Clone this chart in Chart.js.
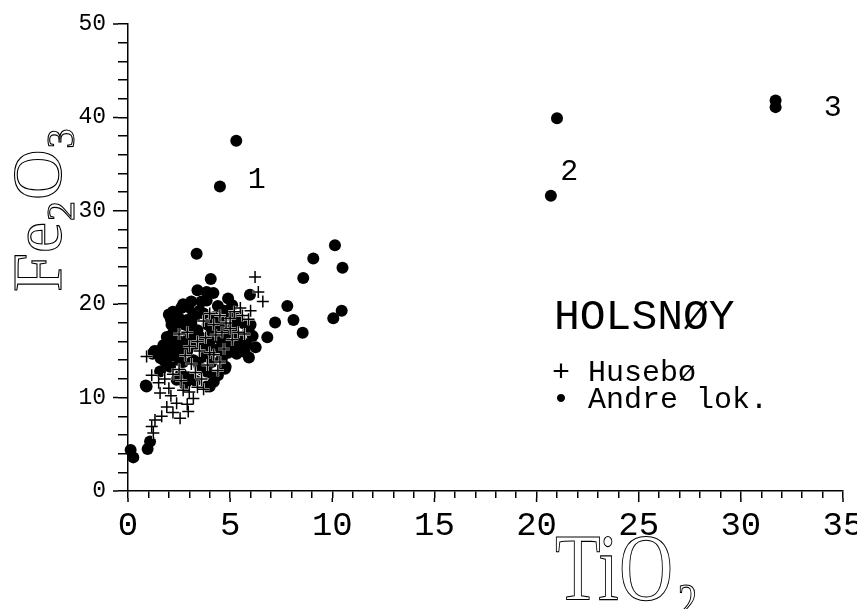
<!DOCTYPE html>
<html lang="no">
<head>
<meta charset="UTF-8">
<title>HOLSNØY - Fe2O3 mot TiO2</title>
<script src="https://cdn.jsdelivr.net/npm/chart.js"></script>
<style>
  body { margin: 0; background: #fff; }
  #chart { display: block; }
</style>
</head>
<body>
<canvas id="chart" width="857" height="609"></canvas>
<script>
  // Husebø samples (+)
  const husTi = [6.22, 6.38, 6.6, 0.91, 1.16, 1.57, 1.32, 1.16, 1.24, 1.65, 2.55, 2.95, 2.38, 3.2,
    1.9, 2.1, 2.7, 1.5, 2.0, 2.9, 3.0, 3.4, 2.2, 1.8,
    3.3, 3.6, 3.9, 4.2, 4.5, 4.0, 2.8, 3.1, 2.5, 2.2, 3.5, 3.8, 4.3, 4.6, 4.8, 5.0, 5.2, 5.5,
    5.0, 4.5, 4.0, 3.7, 5.6, 5.4, 5.7, 5.1, 4.7, 6.0, 3.4, 2.9, 3.0, 2.5, 4.2, 5.9, 2.6, 4.4, 3.7];
  const husFe = [22.9, 21.3, 20.3, 14.4, 12.4, 10.5, 7.6, 6.9, 6.2, 8.0, 7.8, 8.5, 9.4, 9.9,
    9.0, 10.2, 10.8, 11.6, 11.0, 9.3, 10.6, 11.1, 8.4, 12.0,
    12.7, 12.0, 13.5, 14.6, 13.8, 14.8, 14.5, 13.6, 13.0, 12.5, 15.0, 16.4, 16.7, 17.0, 18.0, 18.5, 19.2, 19.6,
    17.4, 18.8, 19.0, 18.2, 18.8, 17.0, 16.8, 16.2, 15.2, 19.3, 16.0, 17.0, 15.5, 16.8, 17.8, 18.4, 11.8, 12.9, 10.9];

  // Andre lokaliteter (•)
  const andreTi = [5.3, 4.5, 21.0, 20.7, 31.7, 31.7,
    0.13, 0.26, 0.96, 1.08, 0.87, 0.91,
    3.36, 4.05, 3.85, 4.18, 3.6, 4.9, 5.97, 9.07, 10.13, 10.5, 8.58, 7.8, 8.1, 8.55, 7.2, 10.46, 10.05,
    6.82, 6.25, 5.92, 4.78, 3.85,
    2.2, 2.95, 3.28, 3.85, 1.73, 1.4, 2.38, 2.13, 4.0, 4.75, 3.2, 2.06, 2.38, 1.57, 3.68, 4.5, 5.15, 5.32,
    2.5, 2.3, 2.8, 3.0, 2.6, 2.9, 3.4, 3.6, 3.3, 3.9, 4.2, 4.4, 4.0, 4.3, 3.7, 3.5, 2.7, 2.4, 2.0, 1.8,
    1.9, 2.2, 2.6, 3.0, 3.3, 2.8, 4.1, 4.6, 5.0, 4.8, 5.5, 5.8, 5.3, 5.6, 4.7, 4.4, 3.5, 2.6, 2.1, 3.1,
    5.1, 5.9, 6.1, 4.9, 3.9, 4.4, 1.2, 1.6, 2.9, 3.8, 4.6, 5.4, 6.0, 4.1, 3.2, 2.4,
    2.0, 2.7, 3.1, 3.4, 2.9, 3.7, 4.6, 1.6, 1.3, 2.5, 3.6, 4.2, 5.2, 5.7, 4.9, 2.2, 3.3, 1.9, 2.8, 4.5];
  const andreFe = [37.5, 32.6, 39.9, 31.6, 41.8, 41.1,
    4.4, 3.6, 4.5, 5.3, 11.3, 11.2,
    25.4, 22.7, 21.3, 21.2, 20.3, 20.6, 21.0, 24.9, 26.3, 23.9, 22.8, 19.8, 18.3, 16.95, 18.05, 19.3, 18.5,
    16.45, 15.4, 14.3, 13.3, 11.2,
    19.2, 19.7, 18.7, 20.4, 15.6, 14.9, 16.3, 17.8, 11.2, 13.1, 14.0, 13.3, 11.9, 12.8, 15.4, 16.3, 17.6, 14.7,
    18.5, 17.2, 17.8, 16.8, 15.6, 15.0, 17.2, 16.4, 15.7, 17.8, 18.6, 17.4, 16.0, 15.1, 14.4, 13.3, 13.8, 14.6, 14.4, 13.9,
    16.5, 15.5, 12.6, 12.2, 11.8, 11.4, 13.8, 14.2, 15.6, 16.8, 16.2, 15.7, 18.6, 18.0, 19.3, 19.8, 19.3, 19.6, 18.4, 18.0,
    19.9, 17.2, 16.6, 14.8, 12.7, 12.4, 14.7, 15.1, 16.2, 15.1, 15.6, 15.3, 17.8, 17.1, 19.0, 17.7,
    18.9, 20.0, 20.3, 21.5, 18.3, 19.0, 18.0, 14.2, 15.0, 14.0, 13.0, 11.7, 16.9, 14.9, 18.9, 16.9, 16.2, 15.2, 15.8, 14.9];

  const xMajor = [0, 5, 10, 15, 20, 25, 30, 35];
  const yMajor = [0, 10, 20, 30, 40, 50];
  const groupTags = ['1', '2', '3'];

  const mono = '"Liberation Mono", "DejaVu Sans Mono", monospace';
  const serif = '"Liberation Serif", "DejaVu Serif", serif';

  const zip = (xs, ys) => xs.map((v, i) => ({ x: v, y: ys[i] }));

  // numbers next to the outlier groups, in data units
  const tagSpots = [[6.3, 33.3], [21.6, 34.2], [34.5, 41.0]];

  const decorations = {
    id: 'decorations',
    afterDraw(chart) {
      const { ctx, chartArea: a, scales: { x, y } } = chart;
      ctx.save();
      ctx.strokeStyle = '#000';
      ctx.fillStyle = '#000';
      ctx.lineWidth = 1.5;

      // longer ticks at the labelled values
      ctx.beginPath();
      yMajor.forEach(v => {
        const py = y.getPixelForValue(v);
        ctx.moveTo(a.left - 10, py);
        ctx.lineTo(a.left - 15, py);
      });
      xMajor.forEach(v => {
        const px = x.getPixelForValue(v);
        ctx.moveTo(px, a.bottom + 7);
        ctx.lineTo(px, a.bottom + 11);
      });
      ctx.stroke();

      // group numbers
      ctx.font = '30px ' + mono;
      ctx.textAlign = 'center';
      ctx.textBaseline = 'middle';
      groupTags.forEach((t, i) => {
        ctx.fillText(t, x.getPixelForValue(tagSpots[i][0]), y.getPixelForValue(tagSpots[i][1]));
      });

      // legend block
      ctx.textAlign = 'left';
      ctx.textBaseline = 'alphabetic';
      ctx.font = '43px ' + mono;
      ctx.fillText('HOLSNØY', 554, 329);
      ctx.font = '30px ' + mono;
      ctx.fillText('+ Husebø', 552, 381);
      ctx.fillText('• Andre lok.', 552, 408);

      // axis titles, outlined like a pen plotter
      ctx.lineWidth = 1.1;
      const piece = (t, px, py, size) => {
        ctx.font = size + 'px ' + serif;
        ctx.strokeText(t, px, py);
        return ctx.measureText(t).width;
      };

      ctx.save();
      ctx.translate(555, 600);
      ctx.scale(0.78, 1);
      let cx = 0;
      cx += piece('TiO', cx, 0, 96);
      piece('2', cx + 6, 18, 50);
      ctx.restore();

      ctx.translate(61, 292);
      ctx.rotate(-Math.PI / 2);
      let cy = 0;
      cy += piece('Fe', cy, 0, 70);
      cy += piece('2', cy + 1, 13, 40) + 2;
      cy += piece('O', cy, 0, 70);
      piece('3', cy + 1, 13, 40);
      ctx.restore();
    }
  };

  new Chart(document.getElementById('chart'), {
    type: 'scatter',
    data: {
      datasets: [
        {
          label: 'Husebø',
          data: zip(husTi, husFe),
          pointStyle: 'cross',
          pointRadius: 6,
          borderColor: '#000',
          borderWidth: 1.5,
          clip: false,
          order: 0
        },
        {
          label: 'Husebø (pen lift)',
          data: zip(husTi, husFe),
          pointStyle: 'cross',
          pointRadius: 6,
          borderColor: '#fff',
          borderWidth: 2.6,
          clip: false,
          order: 1
        },
        {
          label: 'Andre lok.',
          data: zip(andreTi, andreFe),
          pointStyle: 'circle',
          pointRadius: 6,
          backgroundColor: '#000',
          borderColor: '#000',
          borderWidth: 0,
          clip: false,
          order: 2
        }
      ]
    },
    options: {
      responsive: false,
      animation: false,
      devicePixelRatio: 1,
      layout: { padding: { left: 0, right: 14, top: 24, bottom: 0 } },
      plugins: { legend: { display: false }, tooltip: { enabled: false } },
      scales: {
        x: {
          type: 'linear',
          min: 0,
          max: 35,
          afterFit: s => { s.height = 118; s.paddingLeft = 0; s.paddingRight = 0; },
          border: { color: '#000', width: 1.5 },
          grid: { drawOnChartArea: false, drawTicks: true, tickLength: 7, color: '#000', lineWidth: 1.5 },
          ticks: {
            stepSize: 1,
            autoSkip: false,
            maxRotation: 0,
            padding: 8,
            color: '#000',
            font: { family: mono, size: 34 },
            callback: v => xMajor.includes(v) ? String(v) : ''
          }
        },
        y: {
          type: 'linear',
          min: 0,
          max: 50,
          afterFit: s => { s.width = 128; s.paddingTop = 0; s.paddingBottom = 0; },
          border: { color: '#000', width: 1.5 },
          grid: { drawOnChartArea: false, drawTicks: true, tickLength: 10, color: '#000', lineWidth: 1.5 },
          ticks: {
            stepSize: 2,
            autoSkip: false,
            padding: 12,
            color: '#000',
            font: { family: mono, size: 23 },
            callback: v => yMajor.includes(v) ? String(v) : ''
          }
        }
      }
    },
    plugins: [decorations]
  });
</script>
</body>
</html>
